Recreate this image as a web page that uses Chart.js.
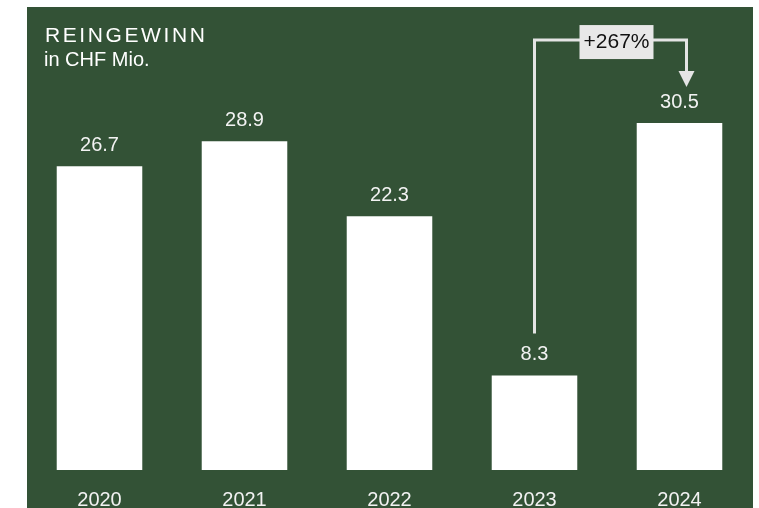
<!DOCTYPE html>
<html>
<head>
<meta charset="utf-8">
<script src="https://cdn.jsdelivr.net/npm/chart.js@4"></script>
<style>
  html, body { margin: 0; padding: 0; background: #fff; overflow: hidden; }
  #panel { position: absolute; left: 27px; top: 7px; width: 726px; height: 515px; background: #335236; }
</style>
</head>
<body>
<div id="panel"><canvas id="chart"></canvas></div>
<script>
const years  = ['2020', '2021', '2022', '2023', '2024'];
const profit = [26.7, 28.9, 22.3, 8.3, 30.5];
const title    = 'REINGEWINN';
const subtitle = 'in CHF Mio.';
const growth   = '+267%';   // 2023 -> 2024

const TEXT = '#f2f2f2';
const LINE = '#e4e4e4';

// value labels above the bars
const valueLabels = {
  id: 'valueLabels',
  afterDatasetsDraw(chart) {
    const ctx = chart.ctx;
    const meta = chart.getDatasetMeta(0);
    ctx.save();
    ctx.font = '20px "Liberation Sans", Arial, sans-serif';
    ctx.fillStyle = TEXT;
    ctx.textAlign = 'center';
    ctx.textBaseline = 'middle';
    meta.data.forEach((bar, i) => {
      ctx.fillText(profit[i].toFixed(1), bar.x, bar.y - 21);
    });
    ctx.restore();
  }
};

// title + growth arrow
const extras = {
  id: 'extras',
  afterDraw(chart) {
    const ctx = chart.ctx;
    const x = chart.scales.x, y = chart.scales.y;

    ctx.save();
    ctx.fillStyle = '#ffffff';
    ctx.textAlign = 'left';
    ctx.textBaseline = 'alphabetic';
    ctx.font = '21px "Liberation Sans", Arial, sans-serif';
    ctx.letterSpacing = '2.6px';
    ctx.fillText(title, 18, 34.6);
    ctx.letterSpacing = '0px';
    ctx.font = '20px "Liberation Sans", Arial, sans-serif';
    ctx.fillText(subtitle, 17, 58.7);

    const x1 = x.getPixelForValue(3);
    const x2 = x.getPixelForValue(4) + 7;
    const yStart = y.getPixelForValue(profit[3]) - 42;
    const yTop = y.getPixelForValue(profit[4]) - 83;
    const yArrow = yTop + 31;

    ctx.strokeStyle = LINE;
    ctx.lineWidth = 3;
    ctx.lineJoin = 'miter';
    ctx.beginPath();
    ctx.moveTo(x1, yStart);
    ctx.lineTo(x1, yTop);
    ctx.lineTo(x2, yTop);
    ctx.lineTo(x2, yArrow);
    ctx.stroke();

    ctx.fillStyle = LINE;
    ctx.beginPath();
    ctx.moveTo(x2 - 8, yArrow);
    ctx.lineTo(x2 + 8, yArrow);
    ctx.lineTo(x2, yArrow + 16);
    ctx.closePath();
    ctx.fill();

    const bx = (x1 + x2) / 2 + 6;
    ctx.fillStyle = '#e8e8e8';
    ctx.fillRect(bx - 37, yTop - 15, 74, 34);
    ctx.fillStyle = '#111111';
    ctx.textAlign = 'center';
    ctx.textBaseline = 'middle';
    ctx.font = '21px "Liberation Sans", Arial, sans-serif';
    ctx.fillText(growth, bx, yTop + 2);
    ctx.restore();
  }
};

new Chart(document.getElementById('chart'), {
  type: 'bar',
  data: {
    labels: years,
    datasets: [{
      data: profit,
      backgroundColor: '#ffffff',
      borderWidth: 0,
      categoryPercentage: 1,
      barPercentage: 0.59
    }]
  },
  options: {
    responsive: true,
    maintainAspectRatio: false,
    animation: false,
    layout: { padding: { top: 8, left: 0, right: 1, bottom: 0 } },
    plugins: {
      legend: { display: false },
      tooltip: { enabled: false }
    },
    scales: {
      x: {
        grid: { display: false },
        border: { display: false },
        ticks: {
          color: TEXT,
          padding: 10,
          font: { family: '"Liberation Sans Narrow", "Arial Narrow", "Liberation Sans", sans-serif', size: 20 }
        }
      },
      y: {
        display: false,
        min: 0,
        max: 40
      }
    }
  },
  plugins: [valueLabels, extras]
});
</script>
</body>
</html>
